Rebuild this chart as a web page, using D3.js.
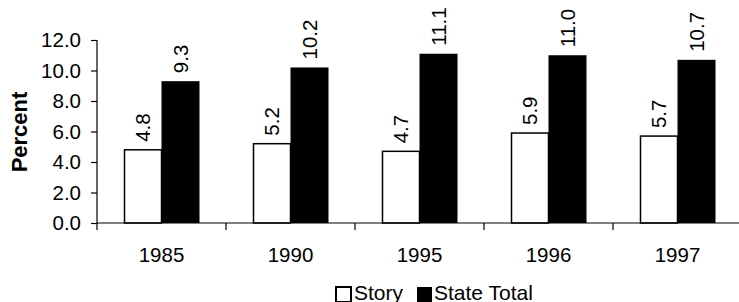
<!DOCTYPE html>
<html><head><meta charset="utf-8">
<script src="https://cdn.jsdelivr.net/npm/d3@7"></script>
<style>
html,body{margin:0;padding:0;background:#fff;}
svg{display:block;font-family:"Liberation Sans",Arial,sans-serif;}
</style></head>
<body>
<svg id="chart" width="739" height="302"></svg>
<script>
const categories = ["1985","1990","1995","1996","1997"];
const storyValues = [4.8, 5.2, 4.7, 5.9, 5.7];
const stateValues = [9.3, 10.2, 11.1, 11.0, 10.7];
const seriesNames = ["Story","State Total"];
const yTicks = [0,2,4,6,8,10,12];

(function(){
const svg = d3.select("#chart");
const mLeft = 97, mRight = 742, mTop = 40, mBottom = 223;

const x = d3.scaleBand().domain(categories).range([mLeft, mRight]).paddingInner(0).paddingOuter(0);
const y = d3.scaleLinear().domain([0,12]).range([mBottom, mTop]);
const barW = 37;
const fs = 20.5;

const g = svg.append("g");
categories.forEach((c,i)=>{
  const cx = x(c) + x.bandwidth()/2;
  g.append("rect")
    .attr("x", cx - barW).attr("y", y(storyValues[i]))
    .attr("width", barW).attr("height", y(0)-y(storyValues[i]))
    .attr("fill","#fff").attr("stroke","#000").attr("stroke-width",1.5);
  g.append("rect")
    .attr("x", cx).attr("y", y(stateValues[i]))
    .attr("width", barW+1).attr("height", y(0)-y(stateValues[i]))
    .attr("fill","#000");
  [[storyValues[i], cx - barW/2],[stateValues[i], cx + barW/2 + 0.5]].forEach(([v,bx])=>{
    const ty = y(v) - 8;
    g.append("text")
      .attr("transform",`translate(${bx},${ty}) rotate(-90)`)
      .attr("dy","0.35em")
      .attr("text-anchor","start")
      .attr("font-size",fs)
      .attr("fill","#000")
      .text(v.toFixed(1));
  });
});

const yAxis = d3.axisLeft(y).tickValues(yTicks).tickFormat(d=>d.toFixed(1)).tickSize(6).tickPadding(10);
const ya = svg.append("g").attr("transform",`translate(${mLeft},0)`).call(yAxis);
ya.select(".domain").attr("d",`M0,${mTop}V${mBottom}`).attr("stroke","#000").attr("stroke-width",1.2);
ya.selectAll(".tick line").attr("stroke","#000").attr("stroke-width",1.2);
ya.selectAll(".tick text").attr("font-size",fs).attr("font-family","Liberation Sans, Arial, sans-serif").attr("fill","#000");

svg.append("line").attr("x1",mLeft).attr("x2",739).attr("y1",mBottom).attr("y2",mBottom)
  .attr("stroke","#000").attr("stroke-width",1.2);
categories.forEach(c=>{
  svg.append("line").attr("x1",x(c)).attr("x2",x(c)).attr("y1",mBottom).attr("y2",mBottom+7)
    .attr("stroke","#000").attr("stroke-width",1.2);
  svg.append("text").attr("x",x(c)+x.bandwidth()/2).attr("y",262)
    .attr("text-anchor","middle").attr("font-size",fs).text(c);
});

svg.append("text")
  .attr("transform",`translate(27,${(90+174)/2}) rotate(-90)`)
  .attr("text-anchor","middle")
  .attr("font-size",22).attr("font-weight","bold").text("Percent");

const lg = svg.append("g");
lg.append("rect").attr("x",336).attr("y",287).attr("width",15).attr("height",15)
  .attr("fill","#fff").attr("stroke","#000").attr("stroke-width",2);
lg.append("text").attr("x",354).attr("y",300).attr("font-size",21).text(seriesNames[0]);
lg.append("rect").attr("x",417).attr("y",287).attr("width",15).attr("height",15).attr("fill","#000");
lg.append("text").attr("x",434).attr("y",300).attr("font-size",21).text(seriesNames[1]);
})();
</script>
</body></html>
